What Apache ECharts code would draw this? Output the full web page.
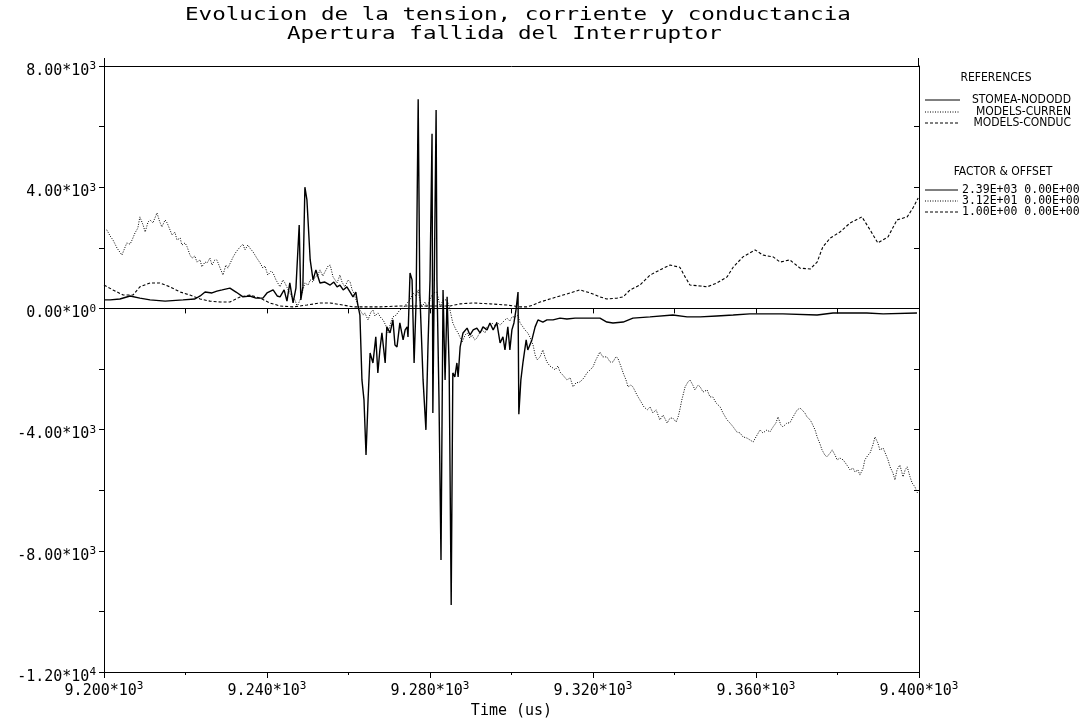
<!DOCTYPE html>
<html>
<head>
<meta charset="utf-8">
<script src="https://cdn.jsdelivr.net/npm/echarts@6/dist/echarts.min.js"></script>
<style>html,body{margin:0;padding:0;background:#fff;}#chart{width:1085px;height:719px;}</style>
</head>
<body>
<div id="chart"></div>
<script>
const titleLines = ['Evolucion de la tension, corriente y conductancia', 'Apertura fallida del Interruptor'];
const seriesNames = ['STOMEA-NODODD', 'MODELS-CURREN', 'MODELS-CONDUC'];
const factorLabels = ['2.39E+03 0.00E+00', '3.12E+01 0.00E+00', '1.00E+00 0.00E+00'];
const xAxisName = 'Time (us)';
const xRange = [9200, 9400];
const yRange = [-12000, 8000];

// [time (us), value]
const voltage = [[9200.0,280],[9201.5,280],[9203.9,310],[9206.4,410],[9208.8,340],[9211.3,280],[9215.0,240],[9219.4,280],[9222.3,310],[9223.6,410],[9224.8,540],[9226.5,510],[9227.7,570],[9229.0,610],[9230.9,670],[9232.4,540],[9234.1,380],[9235.8,410],[9237.3,340],[9239.0,340],[9240.0,510],[9241.5,610],[9242.5,410],[9243.2,380],[9244.2,610],[9244.9,240],[9245.6,840],[9246.4,180],[9247.1,670],[9247.9,2750],[9248.3,280],[9248.8,710],[9249.3,4000],[9249.8,3580],[9250.6,1600],[9251.3,940],[9252.0,1270],[9253.0,840],[9254.2,870],[9255.5,770],[9256.4,870],[9257.2,710],[9257.9,770],[9258.7,610],[9259.6,710],[9260.4,540],[9261.1,380],[9261.8,540],[9262.3,110],[9262.8,-220],[9263.3,-2360],[9263.8,-3020],[9264.3,-4840],[9264.8,-3020],[9265.3,-1470],[9266.0,-1800],[9266.7,-940],[9267.2,-2130],[9267.7,-1370],[9268.2,-810],[9269.0,-1800],[9269.4,-610],[9270.2,-810],[9270.9,-380],[9271.4,-1210],[9271.9,-1270],[9272.6,-480],[9273.4,-1040],[9273.9,-710],[9274.4,-610],[9274.6,-940],[9275.1,1170],[9275.6,940],[9276.1,-1800],[9276.6,280],[9277.1,6900],[9277.5,510],[9278.3,-2360],[9279.0,-4010],[9279.5,-1270],[9280.0,940],[9280.5,5760],[9280.7,-3450],[9281.5,6550],[9281.7,940],[9282.2,-2920],[9282.7,-8300],[9283.2,610],[9283.7,-2360],[9284.2,380],[9284.7,-1930],[9285.2,-9790],[9285.6,-2130],[9286.1,-2260],[9286.6,-1800],[9286.9,-2260],[9287.4,-1270],[9288.1,-810],[9289.1,-650],[9289.8,-880],[9290.6,-710],[9291.5,-650],[9292.3,-810],[9293.0,-610],[9294.0,-710],[9294.7,-480],[9295.5,-710],[9296.4,-480],[9297.2,-1140],[9297.9,-940],[9298.4,-1370],[9299.1,-610],[9299.6,-1370],[9300.1,-710],[9300.6,-480],[9301.1,-50],[9301.6,540],[9301.8,-3490],[9302.3,-2360],[9302.8,-1800],[9303.6,-1040],[9304.0,-1370],[9305.0,-1040],[9305.8,-610],[9306.5,-380],[9307.7,-450],[9308.7,-380],[9310.2,-380],[9311.9,-320],[9313.6,-350],[9315.6,-320],[9318.5,-320],[9321.7,-320],[9323.4,-450],[9324.9,-480],[9327.4,-450],[9329.8,-320],[9334.0,-280],[9339.6,-220],[9343.1,-280],[9346.3,-280],[9350.4,-250],[9354.4,-220],[9358.5,-180],[9366.6,-180],[9375.0,-220],[9378.9,-150],[9387.2,-150],[9391.2,-180],[9399.5,-150]];

const current = [[9200.0,2590],[9200.7,2590],[9201.5,2390],[9202.2,2260],[9203.2,1990],[9204.4,1760],[9205.2,2030],[9205.6,2160],[9206.4,2120],[9206.9,2260],[9207.6,2490],[9208.3,2650],[9208.8,3020],[9209.6,2750],[9210.1,2520],[9210.8,2850],[9211.3,2920],[9212.0,2820],[9213.0,3150],[9213.7,2850],[9214.2,2690],[9215.0,2920],[9215.5,2820],[9216.2,2590],[9216.7,2420],[9217.4,2520],[9217.9,2260],[9218.7,2320],[9219.1,2090],[9219.9,2160],[9220.4,2030],[9221.1,1760],[9221.6,1660],[9222.3,1730],[9222.8,1530],[9223.6,1600],[9224.0,1370],[9224.8,1530],[9225.3,1500],[9226.0,1660],[9226.5,1430],[9227.2,1600],[9227.7,1600],[9228.5,1330],[9229.2,1100],[9229.9,1430],[9230.4,1330],[9231.7,1700],[9232.4,1860],[9233.4,2030],[9234.1,2120],[9234.6,1930],[9235.3,2090],[9235.8,1990],[9236.6,1860],[9237.5,1660],[9238.3,1500],[9239.0,1330],[9239.5,1400],[9240.2,1100],[9241.0,1230],[9241.5,1170],[9242.2,940],[9243.2,710],[9243.9,940],[9244.4,840],[9245.2,610],[9246.1,380],[9246.9,280],[9247.4,50],[9248.1,280],[9248.6,510],[9249.3,840],[9250.1,770],[9250.6,940],[9251.3,870],[9251.8,1040],[9252.5,1100],[9253.0,1270],[9253.7,1070],[9254.2,1200],[9255.0,1400],[9255.5,1430],[9256.2,1040],[9256.7,940],[9257.2,840],[9257.9,1100],[9258.4,870],[9259.1,710],[9259.9,940],[9260.4,870],[9260.9,610],[9261.3,510],[9262.1,180],[9262.8,-50],[9263.6,-220],[9264.0,-150],[9264.8,-380],[9265.5,-120],[9266.0,-50],[9266.5,-250],[9267.2,-150],[9268.0,-320],[9268.5,-380],[9269.2,-580],[9269.7,-810],[9270.4,-450],[9270.9,-280],[9271.7,-220],[9272.6,-50],[9273.4,10],[9274.4,180],[9275.1,280],[9275.8,510],[9276.6,410],[9277.1,610],[9277.5,280],[9278.0,50],[9278.8,210],[9279.3,50],[9280.0,280],[9280.7,510],[9281.7,540],[9282.5,50],[9283.2,280],[9284.2,280],[9284.9,-50],[9285.6,-480],[9286.4,-710],[9286.9,-810],[9287.9,-1110],[9288.6,-880],[9289.1,-810],[9289.8,-980],[9290.3,-880],[9291.0,-1040],[9291.5,-980],[9292.3,-780],[9292.8,-710],[9293.5,-810],[9294.0,-610],[9294.7,-550],[9295.2,-480],[9296.0,-580],[9296.4,-450],[9297.2,-550],[9297.7,-480],[9298.4,-380],[9298.9,-320],[9299.6,-420],[9300.1,-280],[9300.9,-280],[9301.6,-220],[9302.1,-480],[9302.8,-610],[9303.3,-710],[9304.0,-810],[9304.5,-940],[9305.3,-1210],[9305.8,-1540],[9306.3,-1700],[9307.0,-1600],[9307.7,-1370],[9308.2,-1600],[9308.7,-1770],[9309.4,-1900],[9310.2,-1970],[9310.7,-2030],[9311.4,-1900],[9311.9,-2100],[9312.6,-2200],[9313.6,-2360],[9314.4,-2290],[9315.1,-2590],[9315.8,-2460],[9316.8,-2430],[9317.8,-2290],[9318.5,-2130],[9319.3,-2030],[9320.0,-1930],[9320.7,-1700],[9321.7,-1440],[9322.4,-1600],[9323.4,-1600],[9324.2,-1770],[9324.9,-1770],[9325.6,-1600],[9326.1,-1640],[9326.9,-1930],[9327.4,-2130],[9328.1,-2360],[9328.6,-2590],[9329.3,-2530],[9329.8,-2590],[9330.8,-2860],[9331.5,-3020],[9332.5,-3250],[9333.3,-3350],[9334.0,-3250],[9334.7,-3450],[9335.5,-3350],[9336.4,-3680],[9337.2,-3520],[9338.2,-3780],[9338.9,-3620],[9339.6,-3620],[9340.4,-3750],[9340.9,-3580],[9341.3,-3350],[9341.8,-3020],[9342.6,-2590],[9343.3,-2430],[9343.8,-2360],[9344.5,-2530],[9345.0,-2690],[9345.8,-2530],[9346.3,-2590],[9347.0,-2760],[9348.0,-2690],[9348.7,-2920],[9349.4,-2920],[9350.2,-3120],[9351.2,-3250],[9351.9,-3450],[9352.9,-3680],[9353.6,-3780],[9354.4,-3910],[9355.3,-4080],[9356.1,-4110],[9356.8,-4240],[9357.8,-4280],[9358.5,-4340],[9359.3,-4410],[9360.0,-4240],[9361.0,-4010],[9361.7,-4110],[9362.7,-4010],[9363.4,-4080],[9364.2,-3910],[9364.9,-3780],[9365.4,-3580],[9366.1,-3850],[9366.6,-3910],[9367.6,-3780],[9368.3,-3780],[9369.1,-3580],[9370.1,-3350],[9370.8,-3290],[9371.3,-3350],[9372.0,-3450],[9372.5,-3580],[9373.3,-3680],[9373.7,-3780],[9374.5,-4010],[9375.0,-4240],[9375.7,-4470],[9376.2,-4670],[9376.9,-4840],[9377.4,-4900],[9378.2,-4770],[9378.7,-4670],[9379.4,-4840],[9379.9,-5000],[9380.6,-4940],[9381.4,-5000],[9382.3,-5170],[9383.1,-5330],[9383.8,-5270],[9384.3,-5400],[9385.0,-5330],[9385.5,-5500],[9386.3,-5270],[9386.7,-5000],[9387.5,-4840],[9388.0,-4770],[9388.7,-4500],[9389.2,-4240],[9389.9,-4440],[9390.4,-4670],[9391.2,-4610],[9391.7,-4770],[9392.4,-5000],[9392.9,-5230],[9393.6,-5430],[9394.1,-5660],[9394.6,-5330],[9395.3,-5170],[9396.1,-5560],[9396.6,-5330],[9397.1,-5230],[9397.8,-5560],[9398.3,-5760],[9399.0,-5890],[9399.5,-6060],[9399.8,-6120]];

const conductance = [[9200.0,770],[9202.2,610],[9204.7,440],[9207.1,440],[9208.8,710],[9211.3,840],[9213.7,840],[9216.2,710],[9218.7,540],[9221.1,440],[9223.6,310],[9226.0,240],[9228.5,210],[9230.9,210],[9233.4,380],[9235.8,440],[9238.3,340],[9240.7,180],[9243.2,80],[9246.4,50],[9249.8,110],[9253.0,180],[9255.5,180],[9258.7,110],[9261.1,50],[9263.6,50],[9267.7,50],[9272.6,80],[9277.5,80],[9282.5,80],[9284.9,80],[9287.4,150],[9290.6,180],[9294.7,150],[9298.9,110],[9302.1,50],[9303.8,50],[9305.3,110],[9307.0,210],[9309.4,310],[9311.9,410],[9314.4,510],[9316.8,610],[9319.3,510],[9321.7,380],[9323.4,310],[9325.9,340],[9327.4,380],[9329.1,610],[9331.5,770],[9334.0,1100],[9336.4,1270],[9338.9,1430],[9341.3,1360],[9342.6,1040],[9343.8,770],[9346.3,740],[9348.0,710],[9350.4,840],[9352.9,1040],[9354.4,1360],[9356.8,1700],[9359.8,1930],[9361.7,1760],[9364.2,1700],[9365.9,1530],[9368.3,1600],[9370.8,1330],[9373.3,1300],[9375.0,1530],[9376.4,2030],[9378.2,2320],[9380.6,2520],[9383.1,2820],[9386.0,3020],[9388.0,2590],[9389.9,2160],[9392.4,2360],[9394.6,2920],[9397.1,3020],[9398.5,3310],[9399.8,3640]];

const MONO = '"DejaVu Sans Mono", "Liberation Mono", monospace';
const NARROW = '"Liberation Sans Narrow", "DejaVu Sans Condensed", "Liberation Sans", sans-serif';

function sciLabel(v, dec) {
  let e = 0, m = 0;
  if (v !== 0) {
    e = Math.floor(Math.log10(Math.abs(v)) + 1e-9);
    m = v / Math.pow(10, e);
  }
  return '{b|' + m.toFixed(dec) + '*10}{s|' + e + '}';
}
const labelRich = {
  b: { fontFamily: MONO, fontSize: 15, lineHeight: 20, color: '#000' },
  s: { fontFamily: MONO, fontSize: 11, lineHeight: 20, verticalAlign: 'top', color: '#000', padding: [0, 0, 6, 0] }
};
const black = { color: '#000', width: 1 };

const chart = echarts.init(document.getElementById('chart'), null, { renderer: 'canvas' });

const gridBox = { left: 104, right: 166, top: 66, bottom: 47, outerBoundsMode: 'none', containLabel: false };

const extraGraphics = [];
// title, widened like the plotter's stroke font
extraGraphics.push({ type: 'text', x: 185, y: 15, scaleX: 1.22, style: { text: titleLines[0], font: '18.5px ' + MONO, fill: '#000', align: 'left', verticalAlign: 'middle' } });
extraGraphics.push({ type: 'text', x: 287, y: 34, scaleX: 1.22, style: { text: titleLines[1], font: '18.5px ' + MONO, fill: '#000', align: 'left', verticalAlign: 'middle' } });
// axis stubs above the frame
extraGraphics.push({ type: 'line', shape: { x1: 104.5, y1: 58, x2: 104.5, y2: 66 }, style: { stroke: '#000', lineWidth: 1 } });
extraGraphics.push({ type: 'line', shape: { x1: 918.5, y1: 58, x2: 918.5, y2: 66 }, style: { stroke: '#000', lineWidth: 1 } });

extraGraphics.push({ type: 'text', x: 996, y: 78, style: { text: 'REFERENCES', font: '12px ' + NARROW, fill: '#000', align: 'center', verticalAlign: 'middle' } });
const refY = [100, 112, 123];
const dashes = [null, [1, 1.5], [3, 2]];
for (let i = 0; i < 3; i++) {
  extraGraphics.push({ type: 'line', shape: { x1: 925, y1: refY[i], x2: 960, y2: refY[i] }, style: { stroke: '#000', lineWidth: 1, lineDash: dashes[i] } });
  extraGraphics.push({ type: 'text', x: 1071, y: refY[i], style: { text: seriesNames[i], font: '12px ' + NARROW, fill: '#000', align: 'right', verticalAlign: 'middle' } });
}
extraGraphics.push({ type: 'text', x: 1003, y: 172, style: { text: 'FACTOR & OFFSET', font: '12px ' + NARROW, fill: '#000', align: 'center', verticalAlign: 'middle' } });
const facY = [190, 201, 212];
for (let i = 0; i < 3; i++) {
  extraGraphics.push({ type: 'line', shape: { x1: 925, y1: facY[i], x2: 958, y2: facY[i] }, style: { stroke: '#000', lineWidth: 1, lineDash: dashes[i] } });
  extraGraphics.push({ type: 'text', x: 962, y: facY[i], style: { text: factorLabels[i], font: '11.5px ' + MONO, fill: '#000', align: 'left', verticalAlign: 'middle' } });
}

const option = {
  animation: false,
  backgroundColor: '#fff',
  grid: [Object.assign({}, gridBox), Object.assign({}, gridBox)],
  xAxis: [
    {
      gridIndex: 0, type: 'value', position: 'bottom', min: xRange[0], max: xRange[1], interval: 40,
      axisLine: { show: true, onZero: false, lineStyle: black },
      axisTick: { show: true, length: 6, lineStyle: black },
      minorTick: { show: true, splitNumber: 2, length: 3, lineStyle: black },
      splitLine: { show: false }, minorSplitLine: { show: false },
      axisLabel: { margin: 9, formatter: v => sciLabel(v, 3), rich: labelRich },
      name: xAxisName, nameLocation: 'middle', nameGap: 32,
      nameTextStyle: { fontFamily: MONO, fontSize: 15, color: '#000' }
    },
    {
      gridIndex: 0, type: 'value', position: 'top', min: xRange[0], max: xRange[1],
      axisLine: { show: true, onZero: false, lineStyle: black },
      axisTick: { show: false }, axisLabel: { show: false }, splitLine: { show: false }
    },
    {
      gridIndex: 1, type: 'value', position: 'bottom', min: xRange[0], max: xRange[1], interval: 20,
      axisLine: { show: true, onZero: true, lineStyle: black },
      axisTick: { show: true, inside: false, length: 5, lineStyle: black },
      axisLabel: { show: false }, splitLine: { show: false }
    }
  ],
  yAxis: [
    {
      gridIndex: 0, type: 'value', position: 'left', min: yRange[0], max: yRange[1], interval: 4000,
      axisLine: { show: true, onZero: false, lineStyle: black },
      axisTick: { show: true, length: 5, lineStyle: black },
      minorTick: { show: true, splitNumber: 2, length: 5, lineStyle: black },
      splitLine: { show: false }, minorSplitLine: { show: false },
      axisLabel: { margin: 8, padding: [10, 0, 0, 0], formatter: v => sciLabel(v, 2), rich: labelRich }
    },
    {
      gridIndex: 1, type: 'value', position: 'right', min: yRange[0], max: yRange[1], interval: 2000,
      axisLine: { show: true, onZero: false, lineStyle: black },
      axisTick: { show: true, inside: true, length: 5, lineStyle: black },
      axisLabel: { show: false }, splitLine: { show: false }
    }
  ],
  series: [
    { name: seriesNames[0], type: 'line', xAxisIndex: 0, yAxisIndex: 0, data: voltage, showSymbol: false, symbol: 'none',
      lineStyle: { color: '#000', width: 1.4 }, z: 5 },
    { name: seriesNames[1], type: 'line', xAxisIndex: 0, yAxisIndex: 0, data: current, showSymbol: false, symbol: 'none',
      lineStyle: { color: '#000', width: 1, type: [1, 1.5] }, z: 4 },
    { name: seriesNames[2], type: 'line', xAxisIndex: 0, yAxisIndex: 0, data: conductance, showSymbol: false, symbol: 'none',
      lineStyle: { color: '#000', width: 1.1, type: [3, 2] }, z: 3 }
  ],
  graphic: extraGraphics
};
chart.setOption(option);
</script>
</body>
</html>
